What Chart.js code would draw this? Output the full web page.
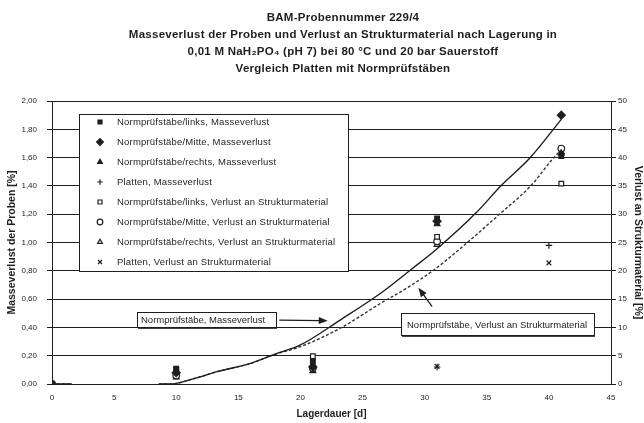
<!DOCTYPE html>
<html>
<head>
<meta charset="utf-8">
<script src="https://cdn.jsdelivr.net/npm/chart.js@4/dist/chart.umd.min.js"></script>
<style>
  body { margin: 0; background: #fff; }
  #chart { display: block; }
</style>
</head>
<body>
<canvas id="chart" width="644" height="423"></canvas>
<script>
const titleLines = [
  'BAM-Probennummer 229/4',
  'Masseverlust der Proben und Verlust an Strukturmaterial nach Lagerung in',
  '0,01 M NaH\u2082PO\u2084 (pH 7) bei 80 °C und 20 bar Sauerstoff',
  'Vergleich Platten mit Normprüfstäben'
];
const leftTickLabels = ['0,00', '0,20', '0,40', '0,60', '0,80', '1,00', '1,20', '1,40', '1,60', '1,80', '2,00'];
const rightTickLabels = ['0', '5', '10', '15', '20', '25', '30', '35', '40', '45', '50'];
const xTickLabels = ['0', '5', '10', '15', '20', '25', '30', '35', '40', '45'];

// Normprüfstäbe, measured after storage days
const days = [0, 10, 21, 31, 41];
const massLinks = [0, 0.10, 0.16, 1.17, 1.61];
const massMitte = [0, 0.08, 0.12, 1.15, 1.90];
const massRechts = [0, 0.09, 0.14, 1.13, 1.63];
const strukLinks = [0, 2.7, 4.9, 26.0, 35.4];
const strukMitte = [0, 1.5, 2.8, 25.2, 41.6];
const strukRechts = [0, 1.2, 2.3, 24.6, 41.0];

// Platten
const plattenDays = [31, 40];
const plattenMass = [0.12, 0.98];
const plattenStruk = [3.1, 21.4];

// trend curves (null = part below zero, not drawn)
const fitMassDays = [0, 1.6, 5, 8.6, 9.5, 11.5, 13.3, 16, 17.9, 20, 23.2, 26.45, 28.86, 30.88, 34.1, 36.2, 38.45, 41];
const fitMass = [0, 0, null, 0, 0, 0.04, 0.087, 0.146, 0.21, 0.276, 0.452, 0.641, 0.806, 0.947, 1.206, 1.406, 1.595, 1.87];
const fitStrukDays = [0, 1.6, 5, 8.6, 9.5, 11.5, 13.3, 16, 17.9, 20, 23.2, 26.45, 28.6, 30.74, 32.75, 36.1, 38.6, 40.2, 41];
const fitStruk = [0, 0, null, 0, 0, 1.0, 2.2, 3.65, 5.2, 6.6, 9.85, 14.25, 17.0, 20.15, 23.7, 30.15, 35.15, 39.5, 41.4];

const labelMassFit = 'Normprüfstäbe, Masseverlust';
const labelStrukFit = 'Normprüfstäbe, Verlust an Strukturmaterial';

const INK = '#1e1e1e';
const FONT = "'Liberation Sans', Arial, sans-serif";

function pts(xs, ys) {
  return xs.map((x, i) => ({ x: x, y: ys[i] }));
}

function scatter(label, xs, ys, axis, style, filled) {
  return {
    type: 'scatter',
    label: label,
    data: pts(xs, ys),
    yAxisID: axis,
    pointStyle: style,
    pointRadius: style === 'rectRot' ? 4 : 3.3,
    pointBorderWidth: 1.2,
    pointBorderColor: INK,
    pointBackgroundColor: filled ? INK : '#fff',
    inLegend: true
  };
}

const datasets = [
  {
    type: 'line',
    label: labelMassFit,
    data: pts(fitMassDays, fitMass),
    yAxisID: 'y',
    borderColor: INK,
    borderWidth: 1.4,
    pointRadius: 0,
    cubicInterpolationMode: 'monotone',
    spanGaps: false,
    fill: false
  },
  {
    type: 'line',
    label: labelStrukFit,
    data: pts(fitStrukDays, fitStruk),
    yAxisID: 'y2',
    borderColor: '#333',
    borderWidth: 1.4,
    borderDash: [3, 2],
    pointRadius: 0,
    cubicInterpolationMode: 'monotone',
    spanGaps: false,
    fill: false
  },
  scatter('Normprüfstäbe/links, Masseverlust', days, massLinks, 'y', 'rect', true),
  scatter('Normprüfstäbe/Mitte, Masseverlust', days, massMitte, 'y', 'rectRot', true),
  scatter('Normprüfstäbe/rechts, Masseverlust', days, massRechts, 'y', 'triangle', true),
  scatter('Platten, Masseverlust', plattenDays, plattenMass, 'y', 'cross', true),
  scatter('Normprüfstäbe/links, Verlust an Strukturmaterial', days, strukLinks, 'y2', 'rect', false),
  scatter('Normprüfstäbe/Mitte, Verlust an Strukturmaterial', days, strukMitte, 'y2', 'circle', false),
  scatter('Normprüfstäbe/rechts, Verlust an Strukturmaterial', days, strukRechts, 'y2', 'triangle', false),
  scatter('Platten, Verlust an Strukturmaterial', plattenDays, plattenStruk, 'y2', 'crossRot', true)
];

// title block, centred a bit right of the canvas middle like the original
const titlePlugin = {
  id: 'bamTitle',
  afterDraw(chart) {
    const ctx = chart.ctx;
    ctx.save();
    ctx.fillStyle = INK;
    ctx.font = 'bold 11.5px ' + FONT;
    ctx.letterSpacing = '0.25px';
    ctx.textAlign = 'center';
    ctx.textBaseline = 'middle';
    titleLines.forEach((line, i) => {
      ctx.fillText(line, 343, 18 + i * 17);
    });
    ctx.restore();
  }
};

function shadowBox(ctx, x1, y1, x2, y2) {
  ctx.fillStyle = '#444';
  ctx.fillRect(x1 + 1, y2 - 1, x2 - x1, 3);
  ctx.fillStyle = '#fff';
  ctx.fillRect(x1, y1, x2 - x1, y2 - y1);
  ctx.strokeStyle = INK;
  ctx.lineWidth = 1;
  ctx.strokeRect(x1 + 0.5, y1 + 0.5, x2 - x1, y2 - y1);
}

function arrow(ctx, x1, y1, x2, y2) {
  const a = Math.atan2(y2 - y1, x2 - x1);
  ctx.strokeStyle = INK;
  ctx.lineWidth = 1.3;
  ctx.beginPath();
  ctx.moveTo(x1, y1);
  ctx.lineTo(x2 - 6 * Math.cos(a), y2 - 6 * Math.sin(a));
  ctx.stroke();
  ctx.fillStyle = INK;
  ctx.beginPath();
  ctx.moveTo(x2, y2);
  ctx.lineTo(x2 - 9 * Math.cos(a) + 3.5 * Math.sin(a), y2 - 9 * Math.sin(a) - 3.5 * Math.cos(a));
  ctx.lineTo(x2 - 9 * Math.cos(a) - 3.5 * Math.sin(a), y2 - 9 * Math.sin(a) + 3.5 * Math.cos(a));
  ctx.closePath();
  ctx.fill();
}

const boxPlugin = {
  id: 'boxes',
  afterDatasetsDraw(chart) {
    const ctx = chart.ctx;
    const sx = chart.scales.x, sy = chart.scales.y;
    ctx.save();

    // legend box
    const lx1 = Math.round(sx.getPixelForValue(2.2));
    const lx2 = Math.round(sx.getPixelForValue(23.8));
    const ly1 = Math.round(sy.getPixelForValue(1.91));
    const ly2 = Math.round(sy.getPixelForValue(0.8));
    ctx.fillStyle = '#fff';
    ctx.fillRect(lx1, ly1, lx2 - lx1, ly2 - ly1);
    ctx.strokeStyle = INK;
    ctx.lineWidth = 1;
    ctx.strokeRect(lx1 + 0.5, ly1 + 0.5, lx2 - lx1, ly2 - ly1);

    ctx.font = '9.5px ' + FONT;
    ctx.letterSpacing = '0.2px';
    ctx.textBaseline = 'middle';
    ctx.textAlign = 'left';
    let row = 0;
    chart.data.datasets.forEach(ds => {
      if (!ds.inLegend) return;
      const yy = ly1 + 8 + row * 20;
      ctx.fillStyle = ds.pointBackgroundColor;
      ctx.strokeStyle = ds.pointBorderColor;
      ctx.lineWidth = ds.pointBorderWidth;
      Chart.helpers.drawPoint(ctx, {
        pointStyle: ds.pointStyle,
        radius: ds.pointRadius * 0.85,
        rotation: 0,
        borderWidth: ds.pointBorderWidth
      }, lx1 + 21, yy);
      ctx.fillStyle = INK;
      ctx.fillText(ds.label, lx1 + 38, yy);
      row++;
    });

    ctx.letterSpacing = '0px';
    // callout: mass loss curve
    const b1x1 = Math.round(sx.getPixelForValue(6.88));
    const b1x2 = Math.round(sx.getPixelForValue(18.07));
    const b1y1 = Math.round(sy.getPixelForValue(0.511));
    const b1y2 = Math.round(sy.getPixelForValue(0.405));
    shadowBox(ctx, b1x1, b1y1, b1x2, b1y2);
    ctx.fillStyle = INK;
    ctx.fillText(labelMassFit, b1x1 + 4, (b1y1 + b1y2) / 2 + 1);
    arrow(ctx, sx.getPixelForValue(18.3), sy.getPixelForValue(0.452),
      sx.getPixelForValue(22.2), sy.getPixelForValue(0.447));

    // callout: structural material curve
    const b2x1 = Math.round(sx.getPixelForValue(28.06));
    const b2x2 = Math.round(sx.getPixelForValue(43.6));
    const b2y1 = Math.round(sy.getPixelForValue(0.502));
    const b2y2 = Math.round(sy.getPixelForValue(0.346));
    shadowBox(ctx, b2x1, b2y1, b2x2, b2y2);
    ctx.fillStyle = INK;
    ctx.fillText(labelStrukFit, b2x1 + 6, (b2y1 + b2y2) / 2 + 1);
    arrow(ctx, sx.getPixelForValue(30.6), sy.getPixelForValue(0.546),
      sx.getPixelForValue(29.5), sy.getPixelForValue(0.68));

    ctx.restore();
  }
};

new Chart(document.getElementById('chart'), {
  data: { datasets: datasets },
  options: {
    responsive: false,
    animation: false,
    devicePixelRatio: 1,
    layout: { padding: { top: 101, left: 0, right: 0, bottom: 0 } },
    plugins: {
      legend: { display: false },
      title: { display: false },
      tooltip: { enabled: false }
    },
    scales: {
      x: {
        type: 'linear',
        min: 0,
        max: 45,
        afterFit(scale) { scale.height = 39; },
        ticks: {
          stepSize: 5,
          padding: 9,
          color: INK,
          font: { family: FONT, size: 8 },
          callback: (v, i) => xTickLabels[i]
        },
        grid: { display: false, drawTicks: false },
        border: { display: true, color: INK, width: 1 },
        title: {
          display: true,
          text: 'Lagerdauer [d]',
          color: INK,
          font: { family: FONT, size: 10, weight: 'bold' },
          padding: { top: 2, bottom: 3 }
        }
      },
      y: {
        position: 'left',
        min: 0,
        max: 2,
        afterFit(scale) { scale.width = 52; },
        ticks: {
          stepSize: 0.2,
          padding: 10,
          color: INK,
          font: { family: FONT, size: 8 },
          callback: (v, i) => leftTickLabels[i]
        },
        grid: { color: INK, lineWidth: 1, tickLength: 5 },
        border: { display: true, color: INK, width: 1 },
        title: {
          display: true,
          text: 'Masseverlust der Proben [%]',
          color: INK,
          font: { family: FONT, size: 10.5, weight: 'bold' },
          padding: { top: 6, bottom: 0 }
        }
      },
      y2: {
        position: 'right',
        min: 0,
        max: 50,
        afterFit(scale) { scale.width = 33; },
        ticks: {
          stepSize: 5,
          padding: 2,
          color: INK,
          font: { family: FONT, size: 8 },
          callback: (v, i) => rightTickLabels[i]
        },
        grid: { drawOnChartArea: false, color: INK, tickLength: 5 },
        border: { display: true, color: INK, width: 1 },
        title: {
          display: true,
          text: 'Verlust an Strukturmaterial [%]',
          color: INK,
          font: { family: FONT, size: 10.5, weight: 'bold' },
          padding: { top: 0, bottom: 5 }
        }
      }
    }
  },
  plugins: [titlePlugin, boxPlugin]
});
</script>
</body>
</html>
